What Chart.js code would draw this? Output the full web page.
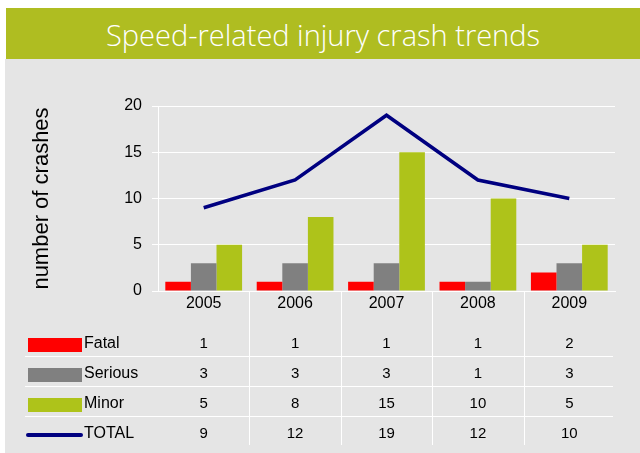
<!DOCTYPE html>
<html><head><meta charset="utf-8">
<script src="https://cdn.jsdelivr.net/npm/chart.js@4"></script>
<style>
html,body{margin:0;padding:0;background:#fff;}
#wrap{position:relative;width:640px;height:453px;overflow:hidden;}
#bg{position:absolute;left:5px;top:59px;width:635px;height:394px;background:#e5e5e5;}
#banner{position:absolute;left:6px;top:8px;width:634px;height:51px;background:#afbd21;color:#fff;font-family:"Open Sans",sans-serif;font-weight:300;font-size:29px;line-height:53px;text-align:center;white-space:nowrap;}
canvas{position:absolute;left:0;top:0;}
</style></head>
<body><div id="wrap"><div id="bg"></div><div id="banner">Speed-related injury crash trends</div><canvas id="c" width="640" height="453"></canvas></div>
<script>
const years = ['2005','2006','2007','2008','2009'];
const fatal = [1,1,1,1,2];
const serious = [3,3,3,1,3];
const minor = [5,8,15,10,5];
const total = [9,12,19,12,10];
const seriesNames = ['Fatal','Serious','Minor','TOTAL'];
const yTitle = 'number of crashes';
const yTicks = [0,5,10,15,20];

const FONT = '"Liberation Sans", Arial, sans-serif';

const tablePlugin = {
  id: 'dataTable',
  afterDraw(chart) {
    const ctx = chart.ctx, xs = chart.scales.x, area = chart.chartArea;
    const n = years.length;
    const centers = years.map((_, i) => xs.getPixelForValue(i));
    const half = (centers[1] - centers[0]) / 2;
    ctx.save();
    ctx.strokeStyle = '#ffffff';
    ctx.lineWidth = 1;
    for (let i = 0; i < n - 1; i++) {
      const x = Math.round(centers[i] + half) + 0.5;
      ctx.beginPath(); ctx.moveTo(x, area.bottom); ctx.lineTo(x, area.bottom + 154); ctx.stroke();
    }
    const rowY = [0, 1, 2, 3].map(r => area.bottom + 51 + 30 * r);
    for (let r = 0; r < 3; r++) {
      const y = Math.round(rowY[r] + 14) + 0.5;
      ctx.beginPath(); ctx.moveTo(25, y); ctx.lineTo(area.right - 2, y); ctx.stroke();
    }
    chart.data.datasets.forEach((ds, r) => {
      const y = rowY[r];
      if (ds.type === 'line') {
        ctx.strokeStyle = ds.borderColor; ctx.lineWidth = 4; ctx.lineCap = 'round';
        ctx.beginPath(); ctx.moveTo(28, y + 3); ctx.lineTo(81, y + 3); ctx.stroke();
      } else {
        ctx.fillStyle = ds.backgroundColor;
        ctx.fillRect(28, y - 4, 54, 14);
      }
      ctx.fillStyle = '#000';
      ctx.textBaseline = 'alphabetic';
      ctx.textAlign = 'left';
      ctx.font = '16px ' + FONT;
      ctx.fillText(ds.label, 84, y + 6);
      ctx.textAlign = 'center';
      ctx.font = '15px ' + FONT;
      ds.data.forEach((v, i) => ctx.fillText(String(v), centers[i], y + 6));
    });
    ctx.restore();
  }
};

new Chart(document.getElementById('c'), {
  type: 'bar',
  data: {
    labels: years,
    datasets: [
      { label: seriesNames[0], data: fatal, backgroundColor: '#ff0000', order: 1 },
      { label: seriesNames[1], data: serious, backgroundColor: '#808080', order: 2 },
      { label: seriesNames[2], data: minor, backgroundColor: '#aec31a', order: 3 },
      { type: 'line', label: seriesNames[3], data: total, borderColor: '#000080', backgroundColor: '#000080', borderWidth: 3.5, pointRadius: 0, tension: 0, order: 0 }
    ]
  },
  options: {
    responsive: false,
    animation: false,
    layout: { padding: { top: 106, left: 0, right: 25, bottom: 0 } },
    datasets: { bar: { barPercentage: 1, categoryPercentage: 0.84 } },
    plugins: { legend: { display: false }, tooltip: { enabled: false }, title: { display: false } },
    scales: {
      x: {
        grid: { display: false, drawTicks: false },
        border: { display: true, color: '#ffffff', width: 1 },
        ticks: { color: '#000', font: { family: FONT, size: 16 }, padding: 3 },
        afterFit(s) { s.height = 162; }
      },
      y: {
        min: 0, max: 20,
        afterBuildTicks(s) { s.ticks = yTicks.map(v => ({ value: v })); },
        grid: { color: '#ffffff', lineWidth: 1, tickLength: 6 },
        border: { display: true, color: '#ffffff', width: 1 },
        ticks: { color: '#000', font: { family: FONT, size: 16 }, padding: 10 },
        title: { display: true, text: yTitle, color: '#000', font: { family: FONT, size: 22 }, padding: { top: 29, bottom: 0 } },
        afterFit(s) { s.width = 158; }
      }
    }
  },
  plugins: [tablePlugin]
});
</script>
</body></html>
